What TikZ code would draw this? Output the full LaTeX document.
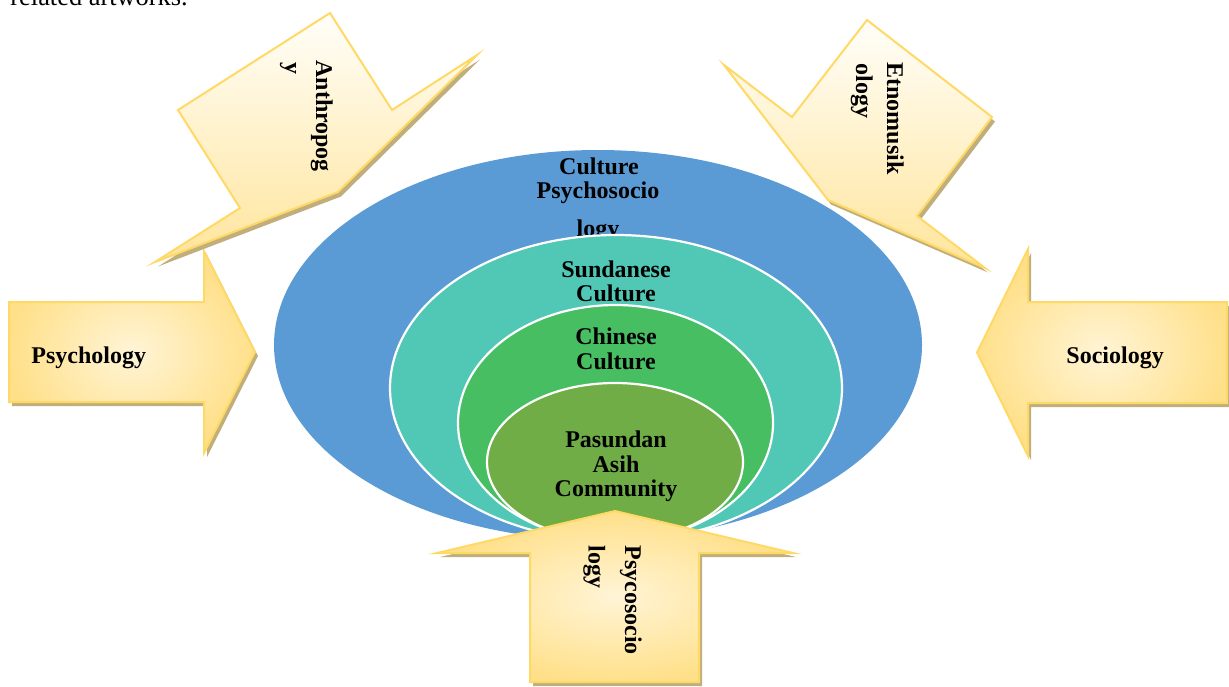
\documentclass[tikz,border=0pt]{standalone}
\usepackage{fontspec}
\setmainfont{Liberation Serif}

\definecolor{outerblue}{HTML}{5B9BD5}
\definecolor{ringteal}{HTML}{51C8B6}
\definecolor{ringgreen}{HTML}{48BE62}
\definecolor{ringolive}{HTML}{70AD47}
\definecolor{arrowline}{HTML}{FFD966}
\definecolor{arrowshadow}{HTML}{C0AF7C}
\definecolor{creamlight}{HTML}{FFFEF9}
\definecolor{creammid}{HTML}{FFF4D6}
\definecolor{creamdark}{HTML}{FFE08A}

\tikzset{
  lbl/.style={font=\bfseries\fontsize{12}{12}\selectfont, inner sep=0pt},
  ring/.style={draw=white, line width=1.1pt},
  arrowbody/.style={draw=arrowline, line width=1pt, line join=miter},
  arrowshade/.style={fill=arrowshadow},
  vshade/.style={top color=creamlight, bottom color=creamdark!85!white},
  rshade/.style={inner color=creammid, outer color=creamdark},
}

% block arrows, coordinates in pixels (y grows downwards)
\newcommand\arrowAnthro[1]{\path[#1] (330,13) -- (392,110) -- (477,55) -- (338,192) -- (155,262) -- (240,208) -- (178,110) -- cycle;}
\newcommand\arrowEtno[1]{\path[#1] (867,20) -- (992,117) -- (917,216) -- (985,268) -- (828,200) -- (724,65) -- (792,117) -- cycle;}
\newcommand\arrowPsych[1]{\path[#1] (9,302) -- (204,302) -- (204,251) -- (255,352) -- (204,453) -- (204,402) -- (9,402) -- cycle;}
\newcommand\arrowSocio[1]{\path[#1] (1227,302) -- (1028,302) -- (1028,249) -- (977,352.5) -- (1028,456) -- (1028,403) -- (1227,403) -- cycle;}
\newcommand\arrowUp[1]{\path[#1] (615,511) -- (793,553) -- (699,553) -- (699,682) -- (530,682) -- (530,553) -- (437,553) -- cycle;}

\begin{document}
\begin{tikzpicture}[x=0.5pt,y=-0.5pt]
\useasboundingbox (0,0) rectangle (1229,686);

% line of running text above the figure
\node[font=\fontsize{13.2}{13}\selectfont, anchor=base west, inner sep=0pt] (runin) at (10,5) {related artworks.};

% nested circles of context
\fill[outerblue] (598,345) ellipse [x radius=162pt, y radius=97.5pt];
\node[lbl, anchor=base] (cp1) at (599,174) {Culture};
\node[lbl, anchor=base] (cp2) at (598,198) {Psychosocio};
\node[lbl, anchor=base] (cp3) at (598,236) {logy};

\path[ring, fill=ringteal] (616,388) ellipse [x radius=113pt, y radius=76.5pt];
\node[lbl, anchor=base] (sc1) at (616,277) {Sundanese};
\node[lbl, anchor=base] (sc2) at (616,301) {Culture};

\path[ring, fill=ringgreen] (615.5,423) ellipse [x radius=78.75pt, y radius=59pt];
\node[lbl, anchor=base] (cc1) at (616,344) {Chinese};
\node[lbl, anchor=base] (cc2) at (616,369) {Culture};

\path[ring, fill=ringolive] (615,462) ellipse [x radius=64pt, y radius=39.5pt];
\node[lbl, anchor=base] (pa1) at (616,447) {Pasundan};
\node[lbl, anchor=base] (pa2) at (616,472) {Asih};
\node[lbl, anchor=base] (pa3) at (616,496) {Community};

% side arrows
\arrowPsych{arrowshade, shift={(3,4)}}
\arrowPsych{arrowbody, rshade}
\node[lbl, anchor=base west] (psy) at (31,363) {Psychology};

\arrowSocio{arrowshade, shift={(3,4)}}
\arrowSocio{arrowbody, rshade}
\node[lbl, anchor=base west] (soc) at (1066,363) {Sociology};

% slanted arrows at the top
\arrowAnthro{arrowshade, shift={(3,4.5)}}
\arrowAnthro{arrowbody, vshade}
\node[lbl, rotate=-90, anchor=base west] (an1) at (316,60) {Anthropog};
\node[lbl, rotate=-90, anchor=base west] (an2) at (285,62) {y};

\arrowEtno{arrowshade, shift={(3,4.5)}}
\arrowEtno{arrowbody, vshade}
\node[lbl, rotate=-90, anchor=base west] (et1) at (887,62) {Etnomusik};
\node[lbl, rotate=-90, anchor=base west] (et2) at (856,63) {ology};

% upward arrow at the bottom
\arrowUp{arrowshade, shift={(3,4)}}
\arrowUp{arrowbody, rshade}
\node[lbl, rotate=-90, anchor=base west] (ps1) at (625,545) {Psycosocio};
\node[lbl, rotate=-90, anchor=base west] (ps2) at (588.5,545) {logy};

\end{tikzpicture}
\end{document}
